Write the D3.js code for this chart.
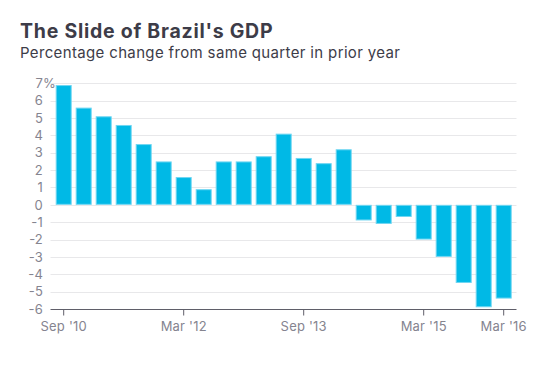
<!DOCTYPE html>
<html>
<head>
<meta charset="utf-8">
<script src="https://cdn.jsdelivr.net/npm/d3@7"></script>
<style>
  body { margin: 0; background: #fff; }
  text { font-family: "Inter", "Roboto", sans-serif; }
  .title { font-size: 19.5px; font-weight: 700; fill: #3d3c48; letter-spacing: 0.75px; }
  .subtitle { font-size: 15px; fill: #3d3c48; letter-spacing: 0.35px; }
  .tick-label { font-size: 13px; fill: #85848f; letter-spacing: 0.2px; }
  .grid { stroke: #e8e8ea; stroke-width: 1; }
  .bar { fill: #00b9e6; stroke: #6fd6f2; stroke-width: 1; }
</style>
</head>
<body>
<svg width="557" height="392"></svg>
<script>
var quarters = ["Sep '10","Dec '10","Mar '11","Jun '11","Sep '11","Dec '11","Mar '12","Jun '12",
  "Sep '12","Dec '12","Mar '13","Jun '13","Sep '13","Dec '13","Mar '14","Jun '14","Sep '14",
  "Dec '14","Mar '15","Jun '15","Sep '15","Dec '15","Mar '16"];
var growth = [6.9, 5.6, 5.1, 4.6, 3.5, 2.5, 1.6, 0.9, 2.5, 2.5, 2.8, 4.1, 2.7, 2.4, 3.2,
  -0.9, -1.1, -0.7, -2.0, -3.0, -4.5, -5.9, -5.4];
var yTicks = [7, 6, 5, 4, 3, 2, 1, 0, -1, -2, -3, -4, -5, -6];
var xTickLabels = ["Sep '10", "Mar '12", "Sep '13", "Mar '15", "Mar '16"];

var svg = d3.select("svg");

var x = d3.scaleBand().domain(quarters).range([53.7, 513.7]).paddingInner(0.2).paddingOuter(0.1);
var y = d3.scaleLinear().domain([-6, 7]).range([309, 83.3]);

var gridLeft = 50.5, gridRight = 516.5;

svg.append("text").attr("class", "title").attr("x", 20).attr("y", 38)
    .text("The Slide of Brazil's GDP");
svg.append("text").attr("class", "subtitle").attr("x", 20).attr("y", 58)
    .text("Percentage change from same quarter in prior year");

// gridlines
svg.append("g").selectAll("line")
  .data(yTicks.filter(function(d) { return d !== -6; }))
  .enter().append("line")
    .attr("class", "grid")
    .attr("x1", gridLeft).attr("x2", gridRight)
    .attr("y1", function(d) { return Math.round(y(d)) + 0.5; })
    .attr("y2", function(d) { return Math.round(y(d)) + 0.5; });

// y labels
svg.append("g").selectAll("text")
  .data(yTicks)
  .enter().append("text")
    .attr("class", "tick-label")
    .attr("text-anchor", "end")
    .attr("x", 43)
    .attr("y", function(d) { return y(d); })
    .attr("dy", "0.36em")
    .text(function(d) { return d; });
svg.append("text").attr("class", "tick-label")
    .attr("x", 43).attr("y", y(7)).attr("dy", "0.36em").text("%");

// bars
svg.append("g").selectAll("rect")
  .data(growth)
  .enter().append("rect")
    .attr("class", "bar")
    .attr("x", function(d, i) { return x(quarters[i]) + 0.5; })
    .attr("y", function(d) { return y(Math.max(0, d)) + 0.5; })
    .attr("width", x.bandwidth() - 1)
    .attr("height", function(d) { return Math.abs(y(d) - y(0)) - 1; });

// x axis
var xAxis = d3.axisBottom(x)
    .tickValues(xTickLabels)
    .tickSize(6)
    .tickSizeOuter(0)
    .tickPadding(6);

var gx = svg.append("g")
    .attr("transform", "translate(0," + (Math.round(y(-6)) + 0.5) + ")")
    .call(xAxis);
gx.select(".domain").attr("d", "M" + gridLeft + ",0H" + gridRight).attr("stroke", "#5f5e69");
gx.selectAll(".tick line").attr("stroke", "#5f5e69");
gx.selectAll(".tick text").attr("class", "tick-label").attr("fill", null)
    .style("font-family", "Inter, Roboto, sans-serif");
</script>
</body>
</html>
